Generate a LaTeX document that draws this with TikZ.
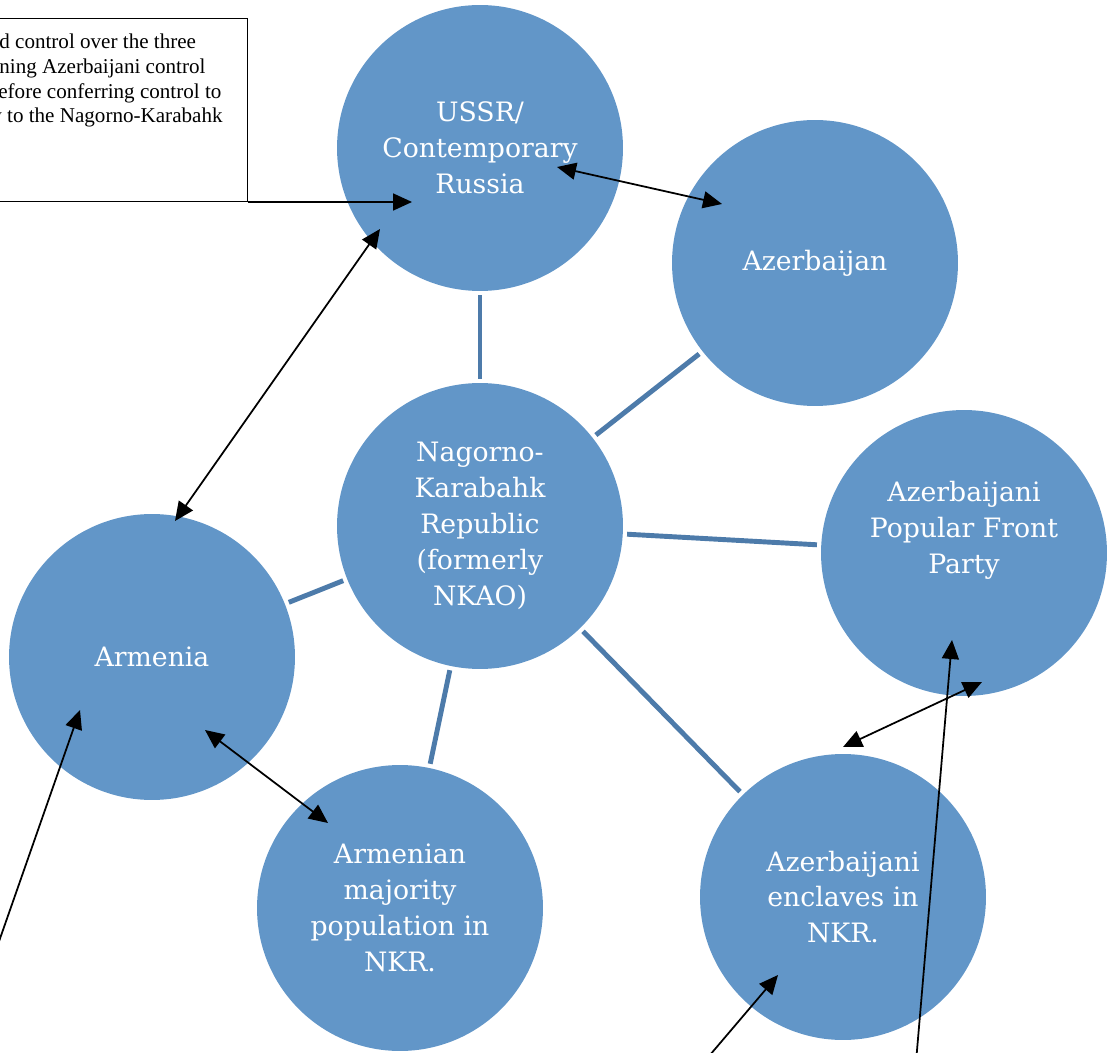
\documentclass[tikz,border=0pt]{standalone}
\usepackage{fontspec}
\setmainfont{DejaVu Serif}
\newfontfamily\notefont{Liberation Serif}
\usepackage{xcolor}
\usepackage{tikz}
\usetikzlibrary{arrows.meta}

\definecolor{bubbleblue}{RGB}{98,150,200}
\definecolor{spokeblue}{RGB}{77,123,170}

\begin{document}
\begin{tikzpicture}[x=0.02cm,y=-0.02cm,
  bubble/.style={circle,fill=bubbleblue,minimum size=5.72cm,inner sep=0pt,
    align=center,text=white,font=\fontsize{15.2}{20.4}\selectfont},
  spoke/.style={draw=spokeblue,line width=2.8pt,shorten <=0.08cm,shorten >=0.08cm},
  tip/.style={-{Triangle[length=0.38cm,width=0.34cm]},line width=1pt},
  twotip/.style={{Triangle[length=0.38cm,width=0.34cm]}-{Triangle[length=0.38cm,width=0.34cm]},line width=1pt},
  notetext/.style={anchor=base west,inner sep=0pt,font=\notefont\fontsize{12}{14}\selectfont}]

\useasboundingbox (0,0) rectangle (1108,1053);
\clip (0,0) rectangle (1108,1053);

% Draw circles
\node[bubble] (ussr) at (480,148) {USSR/\\Contemporary\\Russia};
\node[bubble] (azer) at (815,263) {Azerbaijan};
\node[bubble] (nkr) at (480,526) {Nagorno-\\Karabahk\\Republic\\(formerly\\NKAO)};
\node[bubble,label={[bubble,fill=none,minimum size=0pt,yshift=0.46cm]center:Azerbaijani\\Popular Front\\Party}] (apfp) at (964,553) {};
\node[bubble] (armenia) at (152,657) {Armenia};
\node[bubble] (armmaj) at (400,908) {Armenian\\majority\\population in\\NKR.};
\node[bubble] (enclaves) at (843,897) {Azerbaijani\\enclaves in\\NKR.};

% Draw spokes
\draw[spoke] (nkr) -- (ussr);
\draw[spoke] (nkr) -- (azer);
\draw[spoke] (nkr) -- (apfp);
\draw[spoke] (nkr) -- (armenia);
\draw[spoke] (nkr) -- (armmaj);
\draw[spoke] (nkr) -- (enclaves);

% Draw note box
\node[draw,line width=0.8pt,minimum width=11cm,minimum height=3.66cm,inner sep=0pt,anchor=south east] (note) at (248,202) {};
\node[notetext] (line1) at (-1,49) {d control over the three};
\node[notetext] (line2) at (-1,74) {ning Azerbaijani control};
\node[notetext] (line3) at (-2,99) {efore conferring control to};
\node[notetext] (line4) at (-9,123) {y to the Nagorno-Karabahk};

% Arrow ends
\coordinate (ussr-a) at (412,202);
\coordinate (ussr-b) at (380,229);
\coordinate (ussr-c) at (557,167);
\coordinate (azer-a) at (722,204);
\coordinate (arm-a) at (175,521);
\coordinate (arm-b) at (205,730);
\coordinate (arm-c) at (80,710);
\coordinate (maj-a) at (328,823);
\coordinate (apfp-a) at (952,640);
\coordinate (apfp-b) at (982,682);
\coordinate (encl-a) at (843,747);
\coordinate (encl-b) at (778,975);
\coordinate (free-a) at (-4,950);
\coordinate (free-b) at (704,1062);
\coordinate (free-c) at (916,1062);

% Draw arrows
\draw[tip] (note.south east) -- (ussr-a);
\draw[twotip] (arm-a) -- (ussr-b);
\draw[twotip] (ussr-c) -- (azer-a);
\draw[twotip] (arm-b) -- (maj-a);
\draw[tip] (free-a) -- (arm-c);
\draw[tip] (free-b) -- (encl-b);
\draw[tip] (free-c) -- (apfp-a);
\draw[twotip] (encl-a) -- (apfp-b);

\end{tikzpicture}
\end{document}
